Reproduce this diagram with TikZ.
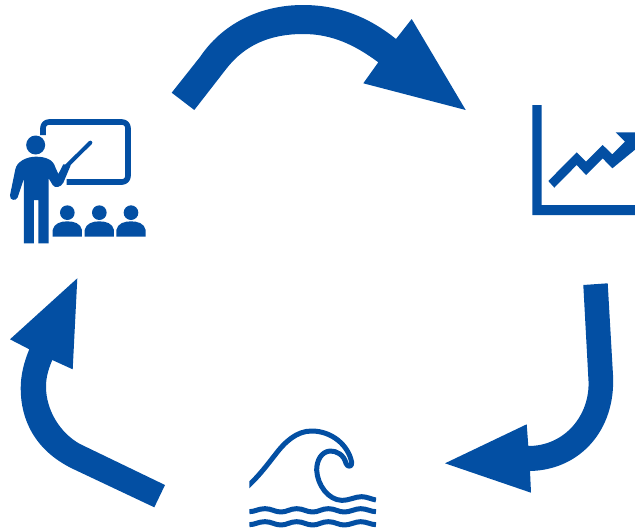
\documentclass[tikz,border=0pt]{standalone}
\definecolor{bluefill}{RGB}{3,79,163}
\tikzset{
  icon/.style={fill=bluefill,draw=none},
  iconline/.style={draw=bluefill,fill=none,line cap=round,line join=round},
  zoomed/.style={x=0.33333pt,y=-0.33333pt}
}
\begin{document}
\begin{tikzpicture}[x=1pt,y=-1pt]
\useasboundingbox (0,0) rectangle (635,531);
\clip (0,0) rectangle (635,531);
% arrow top
\fill[icon] (171.7,92.7) -- (200,57) .. controls (225,20) and (265,5) .. (303,5)
  .. controls (340,5) and (370,18) .. (396,39) -- (411.7,19) -- (465.7,110) -- (363.3,83.3) -- (378.3,62.3)
  .. controls (355,45) and (332,34) .. (303.3,34) .. controls (270,34) and (245,45) .. (226.7,68.3) -- (194.3,110) -- cycle;
% arrow right
\fill[icon] (583.3,285) -- (607.7,283.3) -- (613,375) .. controls (616,430) and (580,470) .. (530,471)
  -- (531,492.7) -- (445,463.3) -- (526.7,424.3) -- (528.3,446)
  .. controls (565,446) and (590,415) .. (588.5,381) -- cycle;
% arrow left
\fill[icon] (165,485) -- (154.3,507.3) -- (71.7,468.3) .. controls (35,450) and (20.7,420) .. (20.7,388.3)
  .. controls (20.7,375) and (24,362) .. (29.3,349.3) -- (10,339.3) -- (77.3,278.3) -- (72.7,369.3) -- (52.3,360)
  .. controls (48,370) and (46,378) .. (46,386.7) .. controls (46,410) and (60,433) .. (80,444) -- cycle;
% teacher
\begin{scope}[shift={(0,110)},zoomed]
\draw[iconline,line width=5.6pt,line cap=butt,rounded corners=6pt] (129,75) -- (129,36) -- (384,36) -- (384,216) -- (200,216);
\fill[icon] (107,105) circle[radius=28.5];
\fill[icon] (72,400) -- (72,205) -- (53,262) .. controls (49,274) and (28,272) .. (30,256) -- (46,178)
  .. controls (50,155) and (80,140) .. (107,140) .. controls (135,140) and (160,148) .. (166,172)
  -- (175,192) -- (190,163) -- (212,166) -- (190,218) .. controls (183,232) and (165,236) .. (158,225)
  -- (146,205) -- (146,400) -- (115,400) -- (115,270) -- (102,270) -- (102,400) -- cycle;
\draw[iconline,line width=4pt] (198,170) -- (271,98);
\foreach \cx in {202,298,393}{
  \fill[icon] (\cx,308) circle[radius=22];
  \fill[icon] (\cx-44,380) -- (\cx-44,360) .. controls (\cx-40,340) and (\cx-20,334) .. (\cx,334)
    .. controls (\cx+20,334) and (\cx+40,340) .. (\cx+44,360) -- (\cx+44,380) -- cycle;
}
\end{scope}
% chart
\begin{scope}[shift={(525,95)},zoomed]
\fill[icon] (22,30) -- (50,30) -- (50,330) -- (335,330) -- (335,360) -- (22,360) -- cycle;
\fill[icon] (70,258) -- (155,172) -- (183,200) -- (233,150) -- (262,178) -- (300,140) -- (272,112) -- (335,112)
  -- (335,160) -- (262,220) -- (233,190) -- (183,240) -- (155,210) -- (88,278) -- cycle;
\end{scope}
% wave
\begin{scope}[shift={(240,420)},zoomed]
\begin{scope}
\clip (28,0) rectangle (408,331);
\draw[iconline,line width=5pt,line cap=butt] (20,202) .. controls (60,165) and (85,130) .. (105,105)
  .. controls (135,65) and (170,33) .. (215,33) .. controls (275,33) and (325,75) .. (335,127)
  .. controls (337,142) and (322,142) .. (318,130) .. controls (312,105) and (290,92) .. (270,93)
  .. controls (245,95) and (230,120) .. (230,150) .. controls (232,195) and (265,240) .. (305,241)
  .. controls (330,241) and (345,230) .. (365,230) .. controls (380,230) and (395,238) .. (408,240);
\foreach \wy in {272,311}{
  \draw[iconline,line width=5pt,line cap=butt] (28,\wy+3) .. controls (45,\wy+3) and (55,\wy-6) .. (75,\wy-6)
    .. controls (95,\wy-6) and (105,\wy+4) .. (123,\wy+4) .. controls (141,\wy+4) and (150,\wy-6) .. (170,\wy-6)
    .. controls (190,\wy-6) and (200,\wy+4) .. (218,\wy+4) .. controls (236,\wy+4) and (245,\wy-6) .. (265,\wy-6)
    .. controls (285,\wy-6) and (295,\wy+4) .. (313,\wy+4) .. controls (331,\wy+4) and (345,\wy-6) .. (362,\wy-6)
    .. controls (380,\wy-6) and (392,\wy+3) .. (408,\wy+3);
}
\end{scope}
\end{scope}
\end{tikzpicture}
\end{document}
